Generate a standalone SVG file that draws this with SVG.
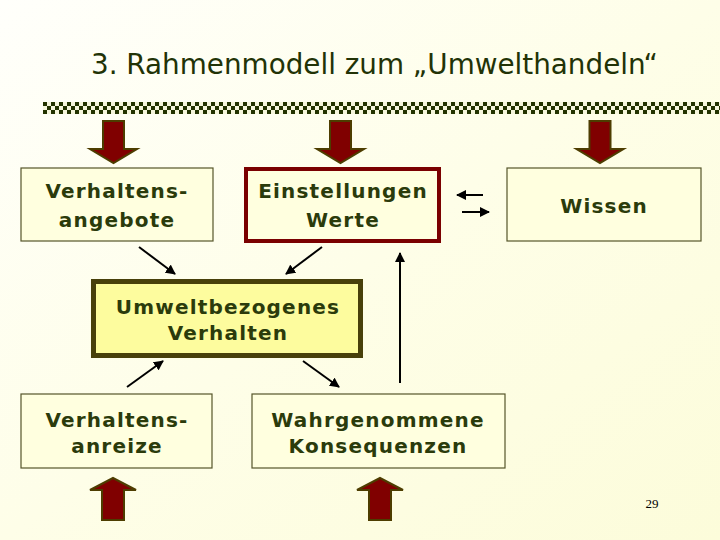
<svg xmlns="http://www.w3.org/2000/svg" width="720" height="540" viewBox="0 0 720 540">
  <defs>
    <linearGradient id="bg" x1="0" y1="0" x2="1" y2="1">
      <stop offset="0" stop-color="#fffffb"/>
      <stop offset="0.5" stop-color="#fefee8"/>
      <stop offset="1" stop-color="#fcfcda"/>
    </linearGradient>
    <pattern id="checker" x="43" y="102" width="8" height="8" patternUnits="userSpaceOnUse">
      <rect width="8" height="8" fill="#f6f6dc"/>
      <rect width="4" height="4" fill="#233300"/>
      <rect x="4" y="4" width="4" height="4" fill="#233300"/>
    </pattern>
    <path id="downArrow" d="M-10.5,0 H10.5 V28 H23.5 L0,42 L-23.5,28 H-10.5 Z"/>
    <path id="upArrow" d="M0,0 L23,12 H11 V42 H-11 V12 H-23 Z"/>
    <marker id="ah" viewBox="0 0 10 10" refX="9" refY="5" markerWidth="5" markerHeight="5" orient="auto" markerUnits="strokeWidth">
      <path d="M0,0 L10,5 L0,10 Z" fill="#000"/>
    </marker>
    <style>
      .box { fill: #ffffdf; stroke: #55552a; stroke-width: 1.2; }
      .lbl { font-family: "DejaVu Sans", Verdana, sans-serif; font-weight: bold; font-size: 20px; letter-spacing: 1.2px; fill: #2b3b0b; text-anchor: middle; }
      .big { fill: #800000; stroke: #4d3d00; stroke-width: 2; }
      .con { stroke: #000; stroke-width: 2; fill: none; marker-end: url(#ah); }
    </style>
  </defs>

  <rect width="720" height="540" fill="url(#bg)"/>

  <text x="91" y="74" font-family="'DejaVu Sans', Tahoma, sans-serif" font-size="29" fill="#223306" textLength="567" lengthAdjust="spacingAndGlyphs">3. Rahmenmodell zum „Umwelthandeln“</text>

  <rect x="43" y="102" width="677" height="12" fill="url(#checker)"/>

  <g id="influence-arrows">
    <use href="#downArrow" class="big" x="113.5" y="121"/>
    <use href="#downArrow" class="big" x="340.5" y="121"/>
    <use href="#downArrow" class="big" x="600" y="121"/>
    <use href="#upArrow" class="big" x="113" y="478"/>
    <use href="#upArrow" class="big" x="380" y="478"/>
  </g>

  <g id="verhaltensangebote">
    <rect class="box" x="21" y="168" width="192" height="73"/>
    <text class="lbl" x="117" y="198">Verhaltens-</text>
    <text class="lbl" x="117" y="227">angebote</text>
  </g>

  <g id="einstellungen">
    <rect x="246" y="169" width="193" height="72" fill="#ffffdf" stroke="#7a0000" stroke-width="4"/>
    <text class="lbl" x="343" y="198">Einstellungen</text>
    <text class="lbl" x="343" y="227">Werte</text>
  </g>

  <g id="wissen">
    <rect class="box" x="507" y="168" width="194" height="73"/>
    <text class="lbl" x="604" y="213">Wissen</text>
  </g>

  <g id="umweltverhalten">
    <rect x="93.5" y="281.5" width="267" height="74" fill="#fdfc9e" stroke="#48400a" stroke-width="5"/>
    <text class="lbl" x="228" y="314">Umweltbezogenes</text>
    <text class="lbl" x="228" y="340">Verhalten</text>
  </g>

  <g id="verhaltensanreize">
    <rect class="box" x="21" y="394" width="191" height="74"/>
    <text class="lbl" x="117" y="427">Verhaltens-</text>
    <text class="lbl" x="117" y="453">anreize</text>
  </g>

  <g id="konsequenzen">
    <rect class="box" x="252" y="394" width="253" height="74"/>
    <text class="lbl" x="378" y="427">Wahrgenommene</text>
    <text class="lbl" x="378" y="453">Konsequenzen</text>
  </g>

  <g id="connectors">
    <line class="con" x1="139" y1="247" x2="175" y2="274"/>
    <line class="con" x1="322" y1="247" x2="286" y2="274"/>
    <line class="con" x1="127" y1="387" x2="163" y2="361"/>
    <line class="con" x1="303" y1="361" x2="339" y2="387"/>
    <line class="con" x1="400" y1="383" x2="400" y2="253"/>
    <line class="con" x1="483" y1="195" x2="457" y2="195"/>
    <line class="con" x1="462" y1="212" x2="489" y2="212"/>
  </g>

  <text x="652" y="508" font-family="'Liberation Serif', 'Times New Roman', serif" font-size="13" fill="#000" text-anchor="middle">29</text>
</svg>
